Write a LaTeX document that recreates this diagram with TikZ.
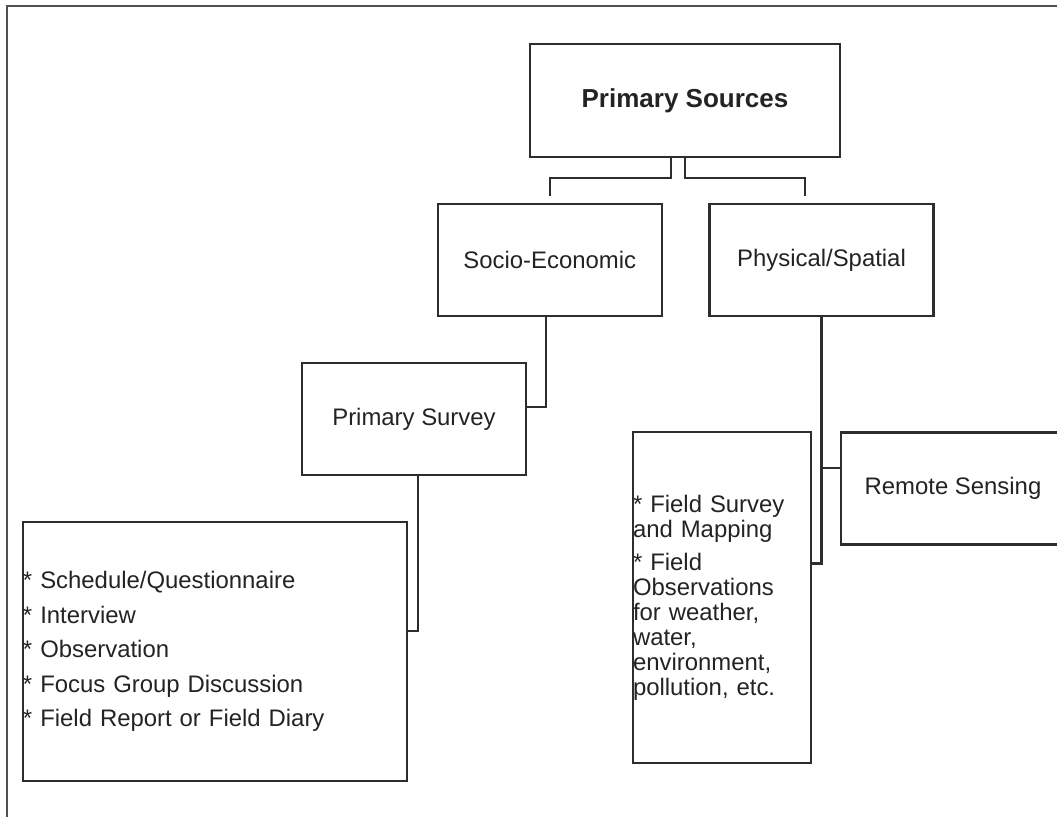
\documentclass[tikz,border=0pt]{standalone}
\usepackage{fontspec}
\setmainfont{Liberation Sans}
\usetikzlibrary{positioning,calc}
\definecolor{boxline}{RGB}{45,45,45}
\definecolor{boxtext}{RGB}{35,35,35}
\definecolor{framegray}{RGB}{80,80,80}
\tikzset{
  catbox/.style={rectangle,draw=boxline,line width=1.7pt,align=center,minimum width=5.6cm,minimum height=2.8cm,inner sep=0pt,text=boxtext,font=\fontsize{17}{17.8}\selectfont},
  topbox/.style={catbox,minimum width=7.75cm,minimum height=2.825cm,font=\fontsize{18.5}{20}\selectfont\bfseries},
  listbox/.style={catbox,align=left,minimum width=0pt,inner xsep=0pt},
  link/.style={draw=boxline,line width=1.4pt},
  trunk/.style={link,line width=2.1pt}
}

\begin{document}
\begin{tikzpicture}
  \useasboundingbox (0,0) rectangle (26.425,-20.4);
  \draw[framegray,line width=2pt] (0.175,-20.6) -- (0.175,-0.15) -- (26.6,-0.15);

  \node[topbox] (ps) at (17.125,-2.5125) {Primary Sources};
  \node[catbox] (socio) at (13.744,-6.5) {Socio-Economic};
  \node[catbox] (phys) at (20.5375,-6.5) {Physical/Spatial};
  \node[catbox] (survey) at (10.35,-10.475) {Primary Survey};
  \node[catbox] (remote) at (23.825,-12.2125) {Remote Sensing};
  \node[listbox,text width=9.6cm,minimum height=6.475cm] (tools) at (5.375,-16.2875)
    {* Schedule/Questionnaire\\[6.7pt]
     * Interview\\[6.7pt]
     * Observation\\[6.7pt]
     * Focus Group Discussion\\[6.7pt]
     * Field Report or Field Diary};
  \node[listbox,text width=4.45cm,minimum height=8.275cm] (field) at (18.05,-14.9375)
    {* Field Survey\\
     and Mapping\\[5.7pt]
     * Field\\
     Observations\\
     for weather,\\
     water,\\
     environment,\\
     pollution, etc.};

  \coordinate (socio-in) at ([yshift=0.175cm]socio.north);
  \coordinate (phys-in) at ([xshift=-0.4125cm,yshift=0.175cm]phys.north);
  \coordinate (rs-in) at ([yshift=0.51cm]remote.west);
  \draw[link] ([xshift=-0.36cm]ps.south) -- ++(0,-0.49) -| (socio-in);
  \draw[link] (ps.south) -- ++(0,-0.49) -| (phys-in);
  \draw[link] ([xshift=-0.1cm]socio.south) |- ([yshift=0.3cm]survey.east);
  \draw[link] ([xshift=0.1cm]survey.south) |- ([yshift=0.51cm]tools.east);
  \draw[trunk] (phys.south) |- ([yshift=0.86cm]field.east);
  \draw[link] (phys.south |- rs-in) -- (rs-in);
\end{tikzpicture}
\end{document}
